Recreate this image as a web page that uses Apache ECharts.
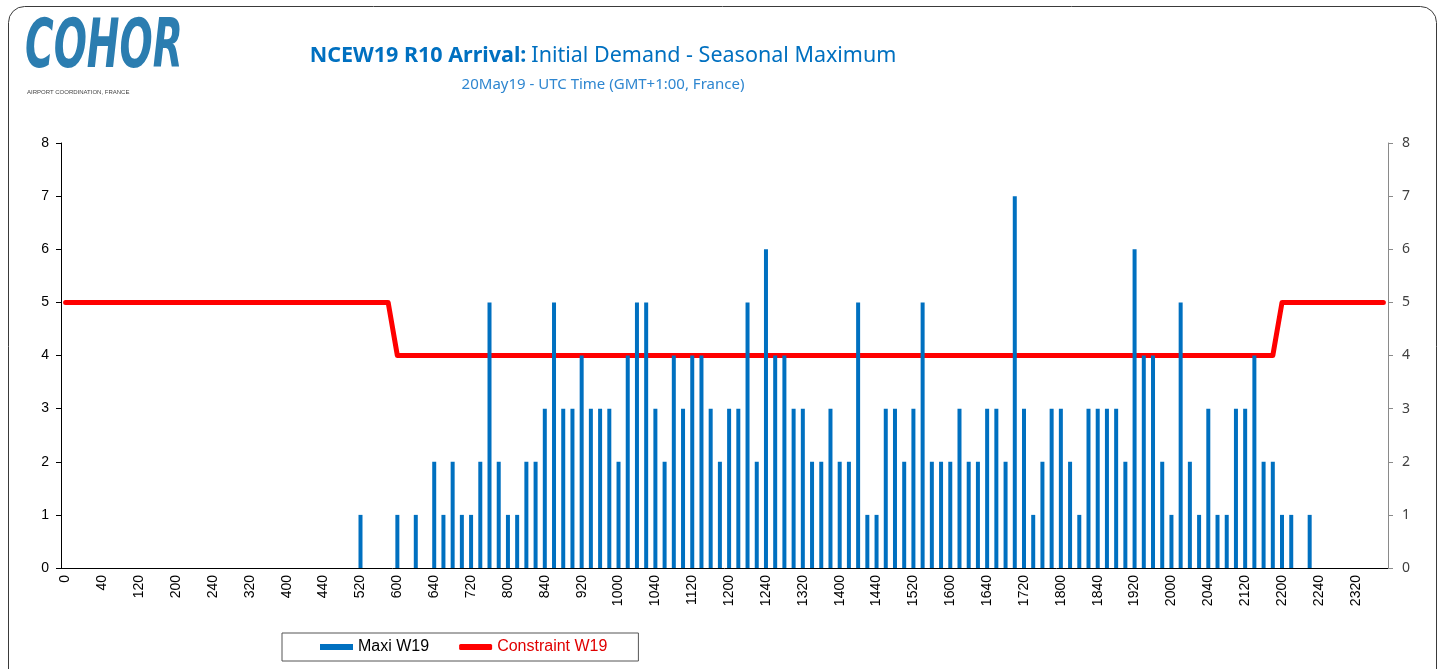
<!DOCTYPE html>
<html>
<head>
<meta charset="utf-8">
<title>NCEW19 R10 Arrival</title>
<script src="https://cdn.jsdelivr.net/npm/echarts@6/dist/echarts.min.js"></script>
<style>
  html, body { margin: 0; padding: 0; background: #fff; }
  #main { width: 1445px; height: 669px; }
</style>
</head>
<body>
<div id="main"></div>
<script>
// time slots, 10 min steps (HHMM without leading zeros)
const slots = [
  '0', '10', '20', '30', '40', '50', '100', '110', '120', '130', '140', '150',
  '200', '210', '220', '230', '240', '250', '300', '310', '320', '330', '340', '350',
  '400', '410', '420', '430', '440', '450', '500', '510', '520', '530', '540', '550',
  '600', '610', '620', '630', '640', '650', '700', '710', '720', '730', '740', '750',
  '800', '810', '820', '830', '840', '850', '900', '910', '920', '930', '940', '950',
  '1000', '1010', '1020', '1030', '1040', '1050', '1100', '1110', '1120', '1130', '1140', '1150',
  '1200', '1210', '1220', '1230', '1240', '1250', '1300', '1310', '1320', '1330', '1340', '1350',
  '1400', '1410', '1420', '1430', '1440', '1450', '1500', '1510', '1520', '1530', '1540', '1550',
  '1600', '1610', '1620', '1630', '1640', '1650', '1700', '1710', '1720', '1730', '1740', '1750',
  '1800', '1810', '1820', '1830', '1840', '1850', '1900', '1910', '1920', '1930', '1940', '1950',
  '2000', '2010', '2020', '2030', '2040', '2050', '2100', '2110', '2120', '2130', '2140', '2150',
  '2200', '2210', '2220', '2230', '2240', '2250', '2300', '2310', '2320', '2330', '2340', '2350'
]

// Maxi W19 (arrivals per 10 min)
const maxiW19 = [
  0, 0, 0, 0, 0, 0, 0, 0, 0, 0, 0, 0,
  0, 0, 0, 0, 0, 0, 0, 0, 0, 0, 0, 0,
  0, 0, 0, 0, 0, 0, 0, 0, 1, 0, 0, 0,
  1, 0, 1, 0, 2, 1, 2, 1, 1, 2, 5, 2,
  1, 1, 2, 2, 3, 5, 3, 3, 4, 3, 3, 3,
  2, 4, 5, 5, 3, 2, 4, 3, 4, 4, 3, 2,
  3, 3, 5, 2, 6, 4, 4, 3, 3, 2, 2, 3,
  2, 2, 5, 1, 1, 3, 3, 2, 3, 5, 2, 2,
  2, 3, 2, 2, 3, 3, 2, 7, 3, 1, 2, 3,
  3, 2, 1, 3, 3, 3, 3, 2, 6, 4, 4, 2,
  1, 5, 2, 1, 3, 1, 1, 3, 3, 4, 2, 2,
  1, 1, 0, 1, 0, 0, 0, 0, 0, 0, 0, 0
]

// Constraint W19
const constraintW19 = [
  5, 5, 5, 5, 5, 5, 5, 5, 5, 5, 5, 5,
  5, 5, 5, 5, 5, 5, 5, 5, 5, 5, 5, 5,
  5, 5, 5, 5, 5, 5, 5, 5, 5, 5, 5, 5,
  4, 4, 4, 4, 4, 4, 4, 4, 4, 4, 4, 4,
  4, 4, 4, 4, 4, 4, 4, 4, 4, 4, 4, 4,
  4, 4, 4, 4, 4, 4, 4, 4, 4, 4, 4, 4,
  4, 4, 4, 4, 4, 4, 4, 4, 4, 4, 4, 4,
  4, 4, 4, 4, 4, 4, 4, 4, 4, 4, 4, 4,
  4, 4, 4, 4, 4, 4, 4, 4, 4, 4, 4, 4,
  4, 4, 4, 4, 4, 4, 4, 4, 4, 4, 4, 4,
  4, 4, 4, 4, 4, 4, 4, 4, 4, 4, 4, 4,
  5, 5, 5, 5, 5, 5, 5, 5, 5, 5, 5, 5
]

const yTicks = [0, 8, 1] // min, max, step

const chart = echarts.init(document.getElementById('main'))
const axisFont = 'Liberation Sans, Arial, sans-serif'

const option = {
  animation: false,
  title: [
    {
      text: '{b|NCEW19 R10 Arrival:} {n|Initial Demand - Seasonal Maximum}',
      left: 598,
      top: 40,
      textAlign: 'center',
      textStyle: {
        rich: {
          b: { fontFamily: 'Noto Sans', fontSize: 21.5, fontWeight: 'bold', color: '#0070C0' },
          n: { fontFamily: 'Noto Sans', fontSize: 21.5, fontWeight: 'normal', color: '#0070C0' }
        }
      }
    },
    {
      text: '20May19 - UTC Time (GMT+1:00, France)',
      left: 598,
      top: 72,
      textAlign: 'center',
      textStyle: { fontFamily: 'Noto Sans', fontSize: 15, fontWeight: 'normal', color: '#2E86D0' }
    }
  ],
  graphic: [
    {
      type: 'rect',
      z: -1,
      shape: { x: 8.5, y: 6.5, width: 1428, height: 720, r: 16 },
      style: { fill: 'none', stroke: '#3a3a3a', lineWidth: 1 }
    },
    {
      type: 'text',
      x: 25,
      y: 15,
      scaleX: 0.7,
      scaleY: 1.1,
      style: {
        text: 'COHOR',
        font: 'italic bold 62px "DejaVu Sans Condensed", "DejaVu Sans"',
        fill: '#2B7DB0'
      }
    },
    {
      type: 'text',
      left: 27,
      top: 89,
      style: {
        text: 'AIRPORT COORDINATION, FRANCE',
        font: '6px "Liberation Sans", Arial',
        fill: '#444'
      }
    }
  ],
  legend: {
    left: 282,
    top: 633,
    orient: 'horizontal',
    itemWidth: 33,
    itemHeight: 6,
    itemGap: 30,
    padding: [6, 31, 6, 38],
    borderColor: '#555',
    borderWidth: 1,
    borderRadius: 0,
    textStyle: { fontFamily: axisFont, fontSize: 16, color: '#000' },
    data: [
      { name: 'Maxi W19', icon: 'rect' },
      { name: 'Constraint W19', icon: 'roundRect', textStyle: { color: '#E00000' } }
    ]
  },
  grid: { left: 61, right: 57, top: 143, bottom: 101 },
  xAxis: {
    type: 'category',
    data: slots,
    boundaryGap: true,
    axisLine: { lineStyle: { color: '#000', width: 1 } },
    axisTick: { interval: 0, length: 5, lineStyle: { color: '#000' } },
    axisLabel: {
      interval: 3,
      rotate: 90,
      margin: 7,
      fontFamily: axisFont,
      fontSize: 14,
      color: '#000'
    },
    splitLine: { show: false }
  },
  yAxis: [
    {
      type: 'value',
      min: yTicks[0],
      max: yTicks[1],
      interval: yTicks[2],
      axisLine: { show: true, lineStyle: { color: '#000' } },
      axisTick: { show: true, length: 5, lineStyle: { color: '#000' } },
      axisLabel: { margin: 12, fontFamily: axisFont, fontSize: 14, color: '#000' },
      splitLine: { show: false }
    },
    {
      type: 'value',
      position: 'right',
      min: yTicks[0],
      max: yTicks[1],
      interval: yTicks[2],
      axisLine: { show: true, lineStyle: { color: '#8a8a8a' } },
      axisTick: { show: true, length: 5, lineStyle: { color: '#8a8a8a' } },
      axisLabel: { margin: 14, fontFamily: 'Noto Sans', fontSize: 14, color: '#404040' },
      splitLine: { show: false }
    }
  ],
  series: [
    {
      name: 'Maxi W19',
      type: 'bar',
      yAxisIndex: 0,
      barWidth: 4,
      z: 3,
      itemStyle: { color: '#0070C0' },
      data: maxiW19
    },
    {
      name: 'Constraint W19',
      type: 'line',
      yAxisIndex: 1,
      z: 2,
      symbol: 'none',
      itemStyle: { color: '#FF0000' },
      lineStyle: { color: '#FF0000', width: 5, cap: 'round', join: 'round' },
      data: constraintW19
    }
  ]
}

option && chart.setOption(option)
</script>
</body>
</html>
